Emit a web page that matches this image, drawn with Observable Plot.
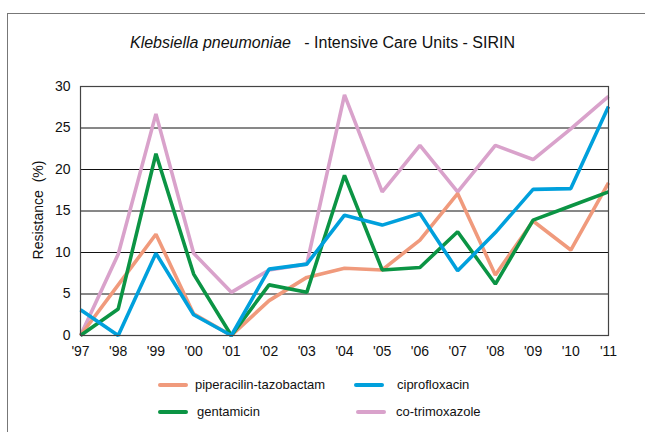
<!DOCTYPE html>
<html>
<head>
<meta charset="utf-8">
<script src="https://cdn.jsdelivr.net/npm/d3@7"></script>
<script src="https://cdn.jsdelivr.net/npm/@observablehq/plot@0.6"></script>
<style>
  html, body { margin: 0; padding: 0; background: #fff; }
  #page { position: relative; width: 645px; height: 432px; overflow: hidden; font-family: "Liberation Sans", Arial, sans-serif; }
  #frame { position: absolute; left: 7px; top: 13px; width: 700px; height: 500px; border-left: 1px solid #777; border-top: 1px solid #777; }
  #title { position: absolute; left: 0; top: 34px; width: 645px; text-align: center; font-size: 16px; color: #111; white-space: pre; }
  #chart { position: absolute; left: 0; top: 60px; }
  #ylabel { position: absolute; left: 38px; top: 210px; transform: translate(-50%, -50%) rotate(-90deg); font-size: 14px; color: #111; white-space: pre; }
  .leg { position: absolute; font-size: 13px; color: #111; white-space: nowrap; }
  .sw { position: absolute; width: 30px; height: 4px; border-radius: 2px; }
</style>
</head>
<body>
<div id="page">
  <div id="frame"></div>
  <div id="title"><i>Klebsiella pneumoniae</i>   - Intensive Care Units - SIRIN</div>
  <div id="chart"></div>
  <div id="ylabel">Resistance  (%)</div>
  <div id="legend"></div>
</div>
<script>
const years = [1997, 1998, 1999, 2000, 2001, 2002, 2003, 2004, 2005, 2006, 2007, 2008, 2009, 2010, 2011];
const seriesNames = ["piperacilin-tazobactam", "gentamicin", "ciprofloxacin", "co-trimoxazole"];
const seriesColors = ["#F09A7C", "#0B9444", "#00A0DC", "#D9A2CB"];
const piperacilin = [0, 6.1, 12.2, 2.6, 0, 4.2, 7.0, 8.1, 7.9, 11.5, 17.1, 7.3, 13.8, 10.3, 18.4];
const gentamicin = [0, 3.2, 21.9, 7.4, 0, 6.1, 5.2, 19.3, 7.9, 8.2, 12.5, 6.2, 13.9, 15.6, 17.3];
const ciprofloxacin = [3.1, 0, 9.9, 2.5, 0, 8.0, 8.6, 14.5, 13.3, 14.7, 7.8, 12.4, 17.6, 17.7, 27.6];
const cotrimoxazole = [0, 9.8, 26.7, 9.9, 5.2, 7.9, 8.6, 29.0, 17.3, 22.9, 17.3, 22.9, 21.2, 24.9, 28.8];
const yTicks = [0, 5, 10, 15, 20, 25, 30];
const gridValues = [5, 10, 15, 20, 25];
const tickLabel = y => "'" + String(y).slice(2);

const seriesValues = [piperacilin, gentamicin, ciprofloxacin, cotrimoxazole];
const rows = [];
seriesNames.forEach((name, i) => years.forEach((yr, j) => rows.push({series: name, year: yr, value: seriesValues[i][j]})));
const drawOrder = ["co-trimoxazole", "piperacilin-tazobactam", "gentamicin", "ciprofloxacin"];

const plot = Plot.plot({
  width: 645,
  height: 310,
  marginLeft: 80,
  marginRight: 37,
  marginTop: 26,
  marginBottom: 35,
  style: {fontFamily: '"Liberation Sans", Arial, sans-serif', fontSize: "14px", color: "#111", background: "transparent"},
  x: {domain: [1997, 2011], ticks: years, tickFormat: tickLabel, tickSize: 0, tickPadding: 11, label: null},
  y: {domain: [0, 30], ticks: yTicks, tickSize: 0, tickPadding: 10, label: null},
  color: {domain: seriesNames, range: seriesColors},
  marks: [
    Plot.ruleY(gridValues, {stroke: "#111", strokeWidth: 1}),
    ...drawOrder.map(name => Plot.line(rows.filter(d => d.series === name), {x: "year", y: "value", stroke: "series", strokeWidth: 3.6, strokeLinejoin: "miter", strokeLinecap: "butt"})),
    Plot.frame({stroke: "#444", strokeWidth: 1.2})
  ]
});
document.getElementById("chart").appendChild(plot);

const legendPos = [
  {sx: 158, tx: 195, y: 385},
  {sx: 158, tx: 197, y: 412},
  {sx: 354, tx: 397, y: 385},
  {sx: 356, tx: 396, y: 412}
];
const leg = document.getElementById("legend");
seriesNames.forEach((name, i) => {
  const p = legendPos[i];
  const sw = document.createElement("div");
  sw.className = "sw";
  sw.style.left = p.sx + "px";
  sw.style.top = (p.y - 2) + "px";
  sw.style.background = seriesColors[i];
  leg.appendChild(sw);
  const t = document.createElement("div");
  t.className = "leg";
  t.style.left = p.tx + "px";
  t.style.top = (p.y - 8) + "px";
  t.textContent = name;
  leg.appendChild(t);
});
</script>
</body>
</html>
